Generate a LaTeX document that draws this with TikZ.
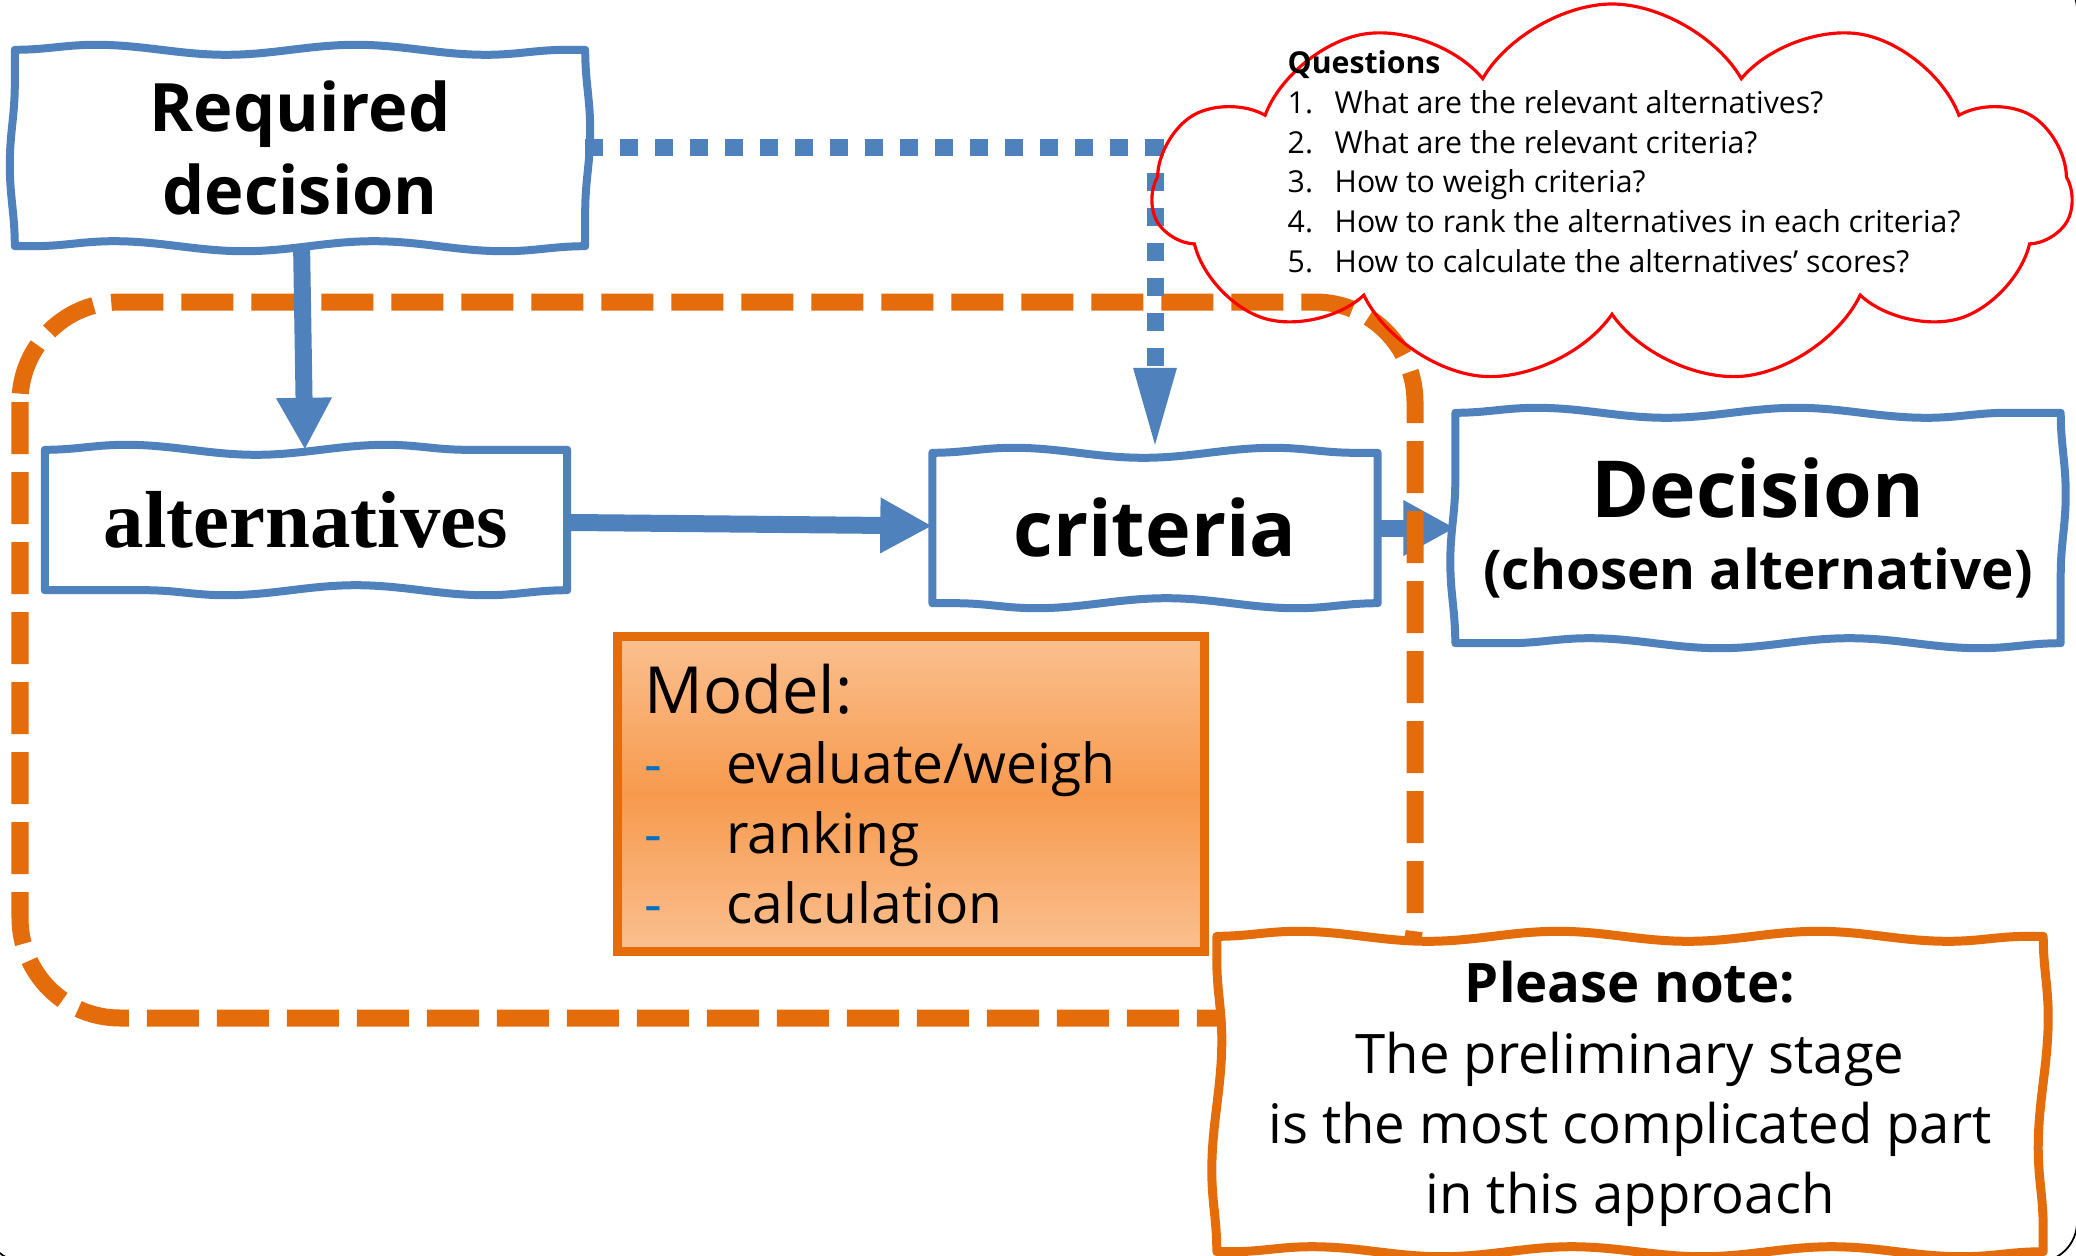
\documentclass[tikz,border=0pt]{standalone}
\usepackage{fontspec}
\setmainfont{Open Sans}
\newfontfamily\serifalt{Liberation Serif}
\usepackage{tikz}
\usetikzlibrary{positioning}
\usetikzlibrary{shapes.symbols, arrows.meta, decorations.pathmorphing}

\definecolor{boxblue}{HTML}{4F81BD}
\definecolor{frameorange}{HTML}{E46C0A}
\definecolor{modellight}{HTML}{FAC090}
\definecolor{modeldark}{HTML}{F79A4E}
\definecolor{dashblue}{HTML}{0070C0}
\definecolor{cloudred}{HTML}{FF0000}

\newcommand{\modelitem}[1]{\makebox[0.82cm][l]{\textcolor{dashblue}{-}}#1}
\newcommand{\qitem}[2]{\makebox[0.47cm][l]{#1}#2}
\newcommand{\wavyframe}[2]{\draw[wavyline, #2] decorate{(#1.north west) -- (#1.north east)} decorate{(#1.north east) -- (#1.south east)} decorate{(#1.south east) -- (#1.south west)} decorate{(#1.south west) -- (#1.north west)};}

\tikzset{
  wavybox/.style={fill=white, inner sep=0pt, align=center},
  wavyline/.style={line width=0.08cm, line cap=round, decoration={snake, amplitude=0.5mm, segment length=2.6cm}},
  flowarrow/.style={draw=boxblue, line width=0.17cm, -{Triangle[length=0.52cm, width=0.52cm]}},
  dotarrow/.style={draw=boxblue, line width=0.17cm, dash pattern=on 0.18cm off 0.17cm, -{Triangle[length=0.85cm, width=0.38cm]}},
}

\begin{document}
\begin{tikzpicture}
    \useasboundingbox (0,0) rectangle (20.76,-12.56);
    \begin{scope}
        \clip (0,0) rectangle (20.76,-12.56);
        \draw[black, line width=0.5pt, rounded corners=0.4cm] (-0.15,0.3) rectangle (20.77,-12.62);
    \end{scope}

    \node[wavybox, minimum width=5.69cm, minimum height=1.95cm, font=\fontsize{19}{23.6}\selectfont\bfseries] (reqdec) at (3.00,-1.48) {Required\\decision};
    \node[wavybox, minimum width=5.21cm, minimum height=1.39cm, font=\serifalt\fontsize{23}{27}\selectfont\bfseries] (alt) at (3.06,-5.20) {alternatives};
    \node[wavybox, minimum width=4.44cm, minimum height=1.49cm, font=\fontsize{22}{26}\selectfont\bfseries] (crit) at (11.55,-5.28) {criteria};
    \node[wavybox, minimum width=6.04cm, minimum height=2.29cm, font=\fontsize{15.6}{20.7}\selectfont\bfseries] (dec) at (17.58,-5.28) {{\fontsize{22.4}{27}\selectfont Decision}\\(chosen alternative)};
    \wavyframe{reqdec}{boxblue}
    \wavyframe{alt}{boxblue}
    \wavyframe{crit}{boxblue}
    \wavyframe{dec}{boxblue}
    \node[draw=frameorange, line width=0.09cm, top color=modellight, bottom color=modellight, middle color=modeldark, minimum width=5.87cm, minimum height=3.15cm, text width=5.33cm, inner xsep=0.27cm, inner ysep=0pt, align=left, font=\fontsize{15.7}{20}\selectfont] (model) at (9.11,-7.94) {{\fontsize{18.5}{22}\selectfont Model:}\\ \modelitem{evaluate/weigh}\\ \modelitem{ranking}\\ \modelitem{calculation}};

    \draw[flowarrow] (crit) -- (dec);
    \draw[frameorange, line width=0.17cm, dash pattern=on 0.52cm off 0.18cm, rounded corners=1cm] (0.20,-3.02) rectangle (14.15,-10.18);
    \draw[flowarrow] (reqdec) -- (alt);
    \draw[flowarrow] (alt) -- (crit);
    \draw[dotarrow] (reqdec.east) -| (crit.north);

    \node[wavybox, minimum width=8.25cm, minimum height=3.14cm, font=\fontsize{15.5}{20}\selectfont] (note) at (16.30,-10.94) {\textbf{Please note:}\\The preliminary stage\\is the most complicated part\\in this approach};
    \wavyframe{note}{frameorange, line width=0.09cm}

    \node[cloud, cloud puffs=11, cloud puff arc=120, cloud ignores aspect, draw=cloudred, line width=0.9pt, minimum width=9.2cm, minimum height=3.8cm] (qcloud) at (16.12,-1.94) {};
    \node[anchor=north west, inner sep=0pt, align=left, font=\fontsize{8.6}{11.3}\selectfont] (questions) at (12.87,-0.50) {\textbf{Questions}\\ \qitem{1.}{What are the relevant alternatives?}\\ \qitem{2.}{What are the relevant criteria?}\\ \qitem{3.}{How to weigh criteria?}\\ \qitem{4.}{How to rank the alternatives in each criteria?}\\ \qitem{5.}{How to calculate the alternatives’ scores?}};
\end{tikzpicture}
\end{document}
